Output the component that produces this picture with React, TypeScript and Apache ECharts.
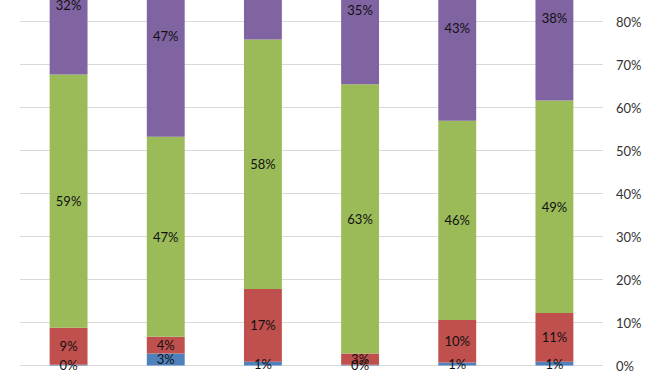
import React, { useEffect, useRef } from "react";
import * as echarts from "echarts";

const categories = ["A", "B", "C", "D", "E", "F"];
const blueValues = [0.2, 2.8, 0.9, 0.2, 0.7, 0.9];
const redValues = [8.6, 3.9, 16.9, 2.6, 9.9, 11.3];
const greenValues = [58.9, 46.5, 58.0, 62.6, 46.3, 49.4];
const purpleValues = [32.3, 46.8, 24.2, 34.6, 43.1, 38.4];
const seriesNames = ["Blue", "Red", "Green", "Purple"];
const seriesColors = ["#4F81BD", "#C0504D", "#9BBB59", "#8064A2"];

const OFFSET = 100;

export default function App() {
  const ref = useRef<HTMLDivElement>(null);
  useEffect(() => {
    if (!ref.current) return;
    const chart = echarts.init(ref.current, undefined, { renderer: "svg" });
    const all = [blueValues, redValues, greenValues, purpleValues];
    chart.setOption({
      animation: false,
      grid: { left: 20, right: 69, top: OFFSET - 64.5, bottom: 4, containLabel: false },
      xAxis: {
        type: "category",
        data: categories,
        axisLine: { show: false },
        axisTick: { show: false },
        axisLabel: { show: false },
      },
      yAxis: {
        type: "value",
        position: "right",
        min: 0,
        max: 100,
        interval: 10,
        axisLine: { show: false },
        axisTick: { show: false },
        splitLine: { lineStyle: { color: "#d9d9d9", width: 1 } },
        axisLabel: {
          margin: 13,
          color: "#333333",
          fontFamily: "Lato",
          fontSize: 13,
          formatter: (v: number) => v + "%",
        },
      },
      series: all.map((vals, i) => ({
        name: seriesNames[i],
        type: "bar",
        stack: "total",
        barWidth: "39%",
        data: vals,
        itemStyle: { color: seriesColors[i] },
        label: {
          show: true,
          position: "inside",
          color: "#111111",
          fontFamily: "Lato",
          fontSize: 13,
          formatter: (p: any) => Math.round(p.value) + "%",
        },
      })),
    });
    return () => chart.dispose();
  }, []);
  return (
    <div
      style={{ position: "absolute", left: 0, top: 0, width: 672, height: 372, overflow: "hidden" }}
    >
      <div
        ref={ref}
        style={{ position: "absolute", left: 0, top: -OFFSET, width: 672, height: 372 + OFFSET }}
      />
    </div>
  );
}
